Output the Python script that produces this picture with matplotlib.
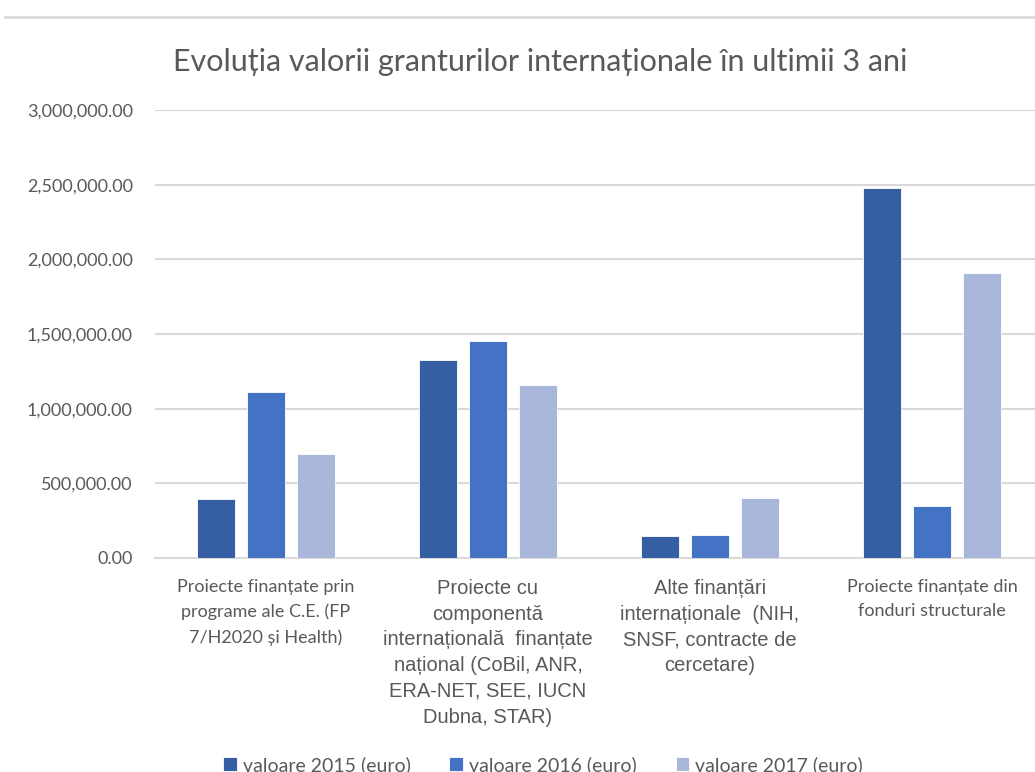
import numpy as np
import matplotlib
matplotlib.use('Agg')
from matplotlib import pyplot as plt
from matplotlib.lines import Line2D
from matplotlib.ticker import FuncFormatter

categories = [
    'Proiecte finanțate prin\nprograme ale C.E. (FP\n7/H2020 și Health)',
    'Proiecte cu\ncomponentă\ninternațională  finanțate\nnațional (CoBil, ANR,\nERA-NET, SEE, IUCN\nDubna, STAR)',
    'Alte finanțări\ninternaționale  (NIH,\nSNSF, contracte de\ncercetare)',
    'Proiecte finanțate din\nfonduri structurale',
]
series_names = ['valoare 2015 (euro)', 'valoare 2016 (euro)', 'valoare 2017 (euro)']
val_2015 = [397000, 1323000, 145000, 2480000]
val_2016 = [1113000, 1450000, 154000, 350000]
val_2017 = [695000, 1159000, 404000, 1907000]
colors = ['#365FA3', '#4472C4', '#A9B7DA']
title = 'Evoluția valorii granturilor internaționale în ultimii 3 ani'

grey = '#595959'
main_font = ['Lato', 'DejaVu Sans']
narrow_font = ['Liberation Sans Narrow', 'Liberation Sans', 'DejaVu Sans']

fig = plt.figure(figsize=(10.35, 7.72), dpi=100)
ax = fig.add_axes([155/1035, 214/772, 888/1035, 448/772])

x = np.arange(len(categories))
w = 0.171
step = 0.225
for i, vals in enumerate([val_2015, val_2016, val_2017]):
    ax.bar(x + (i - 1)*step, vals, w, color=colors[i], edgecolor='white',
           linewidth=0.6, label=series_names[i], zorder=3)

ax.set_xlim(-0.5, len(categories) - 0.5)
ax.set_ylim(0, 3000000)
ax.set_yticks(np.arange(0, 3000001, 500000))
ax.yaxis.set_major_formatter(FuncFormatter(lambda v, p: '{:,.2f}'.format(v)))
ax.grid(axis='y', color='#D9D9D9', linewidth=1.5, zorder=0)
for s in ['top', 'right', 'left']:
    ax.spines[s].set_visible(False)
ax.spines['bottom'].set_color('#D9D9D9')
ax.spines['bottom'].set_linewidth(1.5)
ax.tick_params(axis='both', length=0, colors=grey, labelsize=13)
ax.tick_params(axis='y', pad=16)
ax.tick_params(axis='x', pad=15)
for lbl in ax.get_yticklabels():
    lbl.set_fontfamily(main_font)

ax.set_xticks(x)
ax.set_xticklabels(categories, va='top', ha='center')
for i, lbl in enumerate(ax.get_xticklabels()):
    if i in (1, 2):
        lbl.set_fontfamily(narrow_font)
        lbl.set_fontsize(14.5)
        lbl.set_linespacing(1.45)
    else:
        lbl.set_fontfamily(main_font)
        lbl.set_fontsize(13)
        lbl.set_linespacing(1.65)

fig.text(540/1035, 1 - 62/772, title, ha='center', va='center',
         fontsize=22, color=grey, family=main_font)

# top border line of the chart area
fig.add_artist(Line2D([5/1035, 1], [1 - 17/772, 1 - 17/772],
                      transform=fig.transFigure, color='#D9D9D9', linewidth=2))

leg = fig.legend(loc='lower center', bbox_to_anchor=(543/1035, -0.025), ncol=3,
                 frameon=False, handlelength=0.7, handleheight=0.7,
                 handletextpad=0.3, columnspacing=2.0,
                 prop={'family': main_font, 'size': 14})
for t in leg.get_texts():
    t.set_color(grey)

fig.savefig('out.png', dpi=100, facecolor='white')
